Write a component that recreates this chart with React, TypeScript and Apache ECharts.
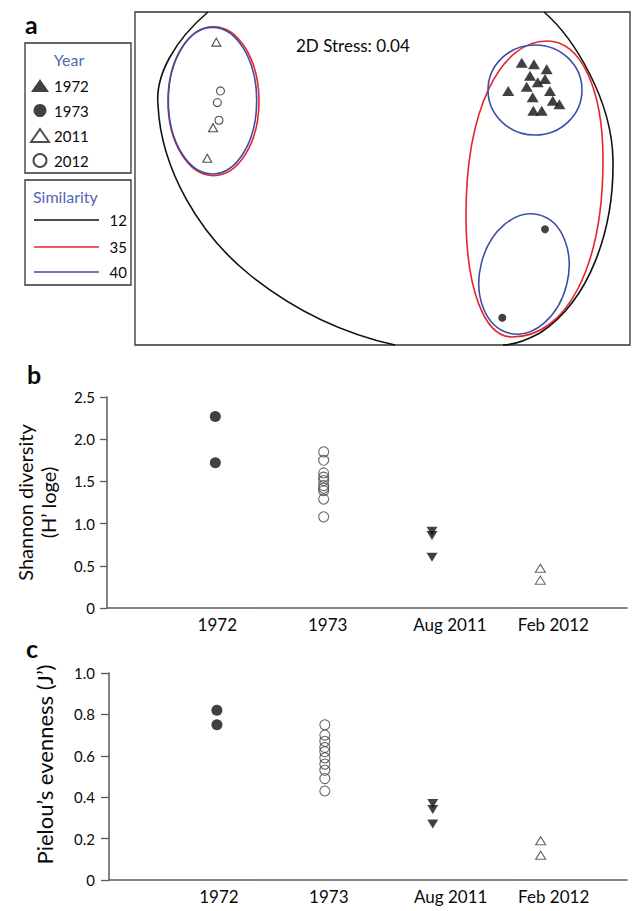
import React, { useEffect, useRef } from "react";
import * as echarts from "echarts";

const FONT = "Lato, 'Open Sans', sans-serif";

// ---- Panel a: 2D ordination (arbitrary units) ----
const mds1972X = [0.844, 0.918, 0.995, 0.894, 0.985, 0.941, 0.874, 0.762, 1.015, 0.91, 1.032, 1.072, 0.914, 0.965];
const mds1972Y = [0.695, 0.686, 0.656, 0.617, 0.598, 0.578, 0.551, 0.526, 0.526, 0.488, 0.467, 0.446, 0.407, 0.407];
const mds1973X = [0.985, 0.726];
const mds1973Y = [-0.305, -0.836];
const mds2011X = [-1.007, -1.027, -1.062];
const mds2011Y = [0.819, 0.305, 0.121];
const mds2012X = [-0.982, -1.001, -0.991];
const mds2012Y = [0.526, 0.456, 0.35];
const yearNames = ["1972", "1973", "2011", "2012"];
const similarityLevels = ["12", "35", "40"];
const stressText = "2D Stress: 0.04";

// ---- Panels b and c ----
const sampleCategories = ["1972", "1973", "Aug 2011", "Feb 2012"];
const shannon1972 = [2.27, 1.72];
const shannon1973 = [1.85, 1.75, 1.6, 1.55, 1.51, 1.45, 1.42, 1.39, 1.29, 1.08];
const shannonAug2011 = [0.91, 0.86, 0.6];
const shannonFeb2012 = [0.47, 0.33];
const pielou1972 = [0.82, 0.75];
const pielou1973 = [0.75, 0.7, 0.67, 0.64, 0.62, 0.59, 0.56, 0.53, 0.49, 0.43];
const pielouAug2011 = [0.37, 0.34, 0.27];
const pielouFeb2012 = [0.19, 0.12];
const shannonTicks = ["0", "0.5", "1.0", "1.5", "2.0", "2.5"];
const pielouTicks = ["0", "0.2", "0.4", "0.6", "0.8", "1.0"];

const zip = (xs: number[], ys: number[]) => xs.map((x, i) => [x, ys[i]]);

const BLACK = "#111";
const RED = "#e6252b";
const BLUE = "#3c4fa5";
const TITLE_BLUE = "#5266b8";
const AXIS = "#5a5a5a";
const TEXT = "#0a0a0a";

function buildOption() {
  const catLabel = (v: number) => {
    const i = Math.round(v);
    if (Math.abs(v - i) > 1e-6 || i < 1 || i > sampleCategories.length) return "";
    return `{c${i}|${sampleCategories[i - 1]}}`;
  };
  const tok = (pad: number) => ({
    fontSize: 17,
    fontFamily: FONT,
    color: TEXT,
    padding: [0, 0, 0, pad],
  });
  const catRich = { c1: tok(4), c2: tok(8), c3: tok(36), c4: tok(26) };

  const catXAxis = (gridIndex: number) => ({
    type: "value",
    gridIndex,
    min: 0,
    max: 4.8,
    interval: 1,
    axisLine: { show: true, onZero: false, lineStyle: { color: AXIS, width: 1.5 } },
    axisTick: { show: false },
    splitLine: { show: false },
    axisLabel: { margin: 8, formatter: catLabel, rich: catRich },
  });

  const openStyle = { color: "rgba(0,0,0,0)", borderColor: "#444", borderWidth: 1.1 };
  const filledStyle = { color: BLACK };

  const catSeries = (
    name: string,
    gi: number,
    cat: number,
    vals: number[],
    symbol: string,
    size: number | number[],
    itemStyle: any,
    rotate = 0
  ) => ({
    type: "scatter",
    name,
    xAxisIndex: gi,
    yAxisIndex: gi,
    symbol,
    symbolSize: size,
    symbolRotate: rotate,
    itemStyle,
    silent: true,
    data: vals.map((v) => [cat, v]),
  });

  const ell = (cx: number, cy: number, rx: number, ry: number, deg: number, stroke: string, z = 1) => ({
    type: "ellipse",
    x: cx,
    y: cy,
    rotation: (-deg * Math.PI) / 180,
    shape: { cx: 0, cy: 0, rx, ry },
    style: { fill: "none", stroke, lineWidth: 1.6 },
    z,
    silent: true,
  });
  const bez = (p: number[], stroke: string) => ({
    type: "bezierCurve",
    shape: { x1: p[0], y1: p[1], cpx1: p[2], cpy1: p[3], cpx2: p[4], cpy2: p[5], x2: p[6], y2: p[7] },
    style: { fill: "none", stroke, lineWidth: 1.6 },
    z: 1,
    silent: true,
  });
  const txt = (x: number, y: number, text: string, size: number, opts: any = {}) => ({
    type: "text",
    x,
    y,
    silent: true,
    z: 5,
    style: {
      text,
      fontSize: size,
      fontFamily: FONT,
      fontWeight: opts.weight || "normal",
      fill: opts.color || TEXT,
      textFill: opts.color || TEXT,
      align: opts.align || "left",
      textAlign: opts.align || "left",
      verticalAlign: "middle",
      textVerticalAlign: "middle",
    },
  });

  const graphic: any[] = [
    txt(25, 24, "a", 25, { weight: "bold" }),
    txt(27, 374, "b", 25, { weight: "bold" }),
    txt(26, 648, "c", 25, { weight: "bold" }),
    txt(296, 45, stressText, 17),
    // legend boxes
    { type: "rect", shape: { x: 25, y: 43, width: 106, height: 130 }, style: { fill: "none", stroke: "#333", lineWidth: 1.3 }, silent: true },
    { type: "rect", shape: { x: 25, y: 180, width: 106, height: 105 }, style: { fill: "none", stroke: "#333", lineWidth: 1.3 }, silent: true },
    txt(69, 59, "Year", 16, { align: "center", color: TITLE_BLUE }),
    txt(33, 196, "Similarity", 16, { color: TITLE_BLUE }),
    { type: "line", shape: { x1: 34, y1: 220, x2: 99, y2: 220 }, style: { stroke: BLACK, lineWidth: 1.5 }, silent: true },
    { type: "line", shape: { x1: 34, y1: 247, x2: 99, y2: 247 }, style: { stroke: RED, lineWidth: 1.5 }, silent: true },
    { type: "line", shape: { x1: 34, y1: 272, x2: 99, y2: 272 }, style: { stroke: BLUE, lineWidth: 1.5 }, silent: true },
    txt(127, 220, similarityLevels[0], 15, { align: "right" }),
    txt(127, 247, similarityLevels[1], 15, { align: "right" }),
    txt(127, 272, similarityLevels[2], 15, { align: "right" }),
    // similarity 12 contour (black), clipped by frame
    bez([208, 12, 175, 40, 155, 75, 158, 105], BLACK),
    bez([158, 105, 161, 170, 200, 235, 250, 275], BLACK),
    bez([250, 275, 300, 315, 350, 335, 395, 345], BLACK),
    bez([544, 12, 574, 38, 612, 100, 613, 160], BLACK),
    bez([613, 160, 614, 230, 590, 300, 540, 333], BLACK),
    bez([540, 333, 525, 341, 512, 345, 503, 345], BLACK),
    // similarity 35 contours (red)
    ell(213.5, 101.2, 45.5, 74.5, 0, RED),
    bez([547, 41, 500, 41, 466, 110, 466, 215], RED),
    bez([466, 215, 466, 288, 484, 337, 512, 337], RED),
    bez([512, 337, 567, 337, 603, 266, 603, 160], RED),
    bez([603, 160, 603, 89, 581, 41, 547, 41], RED),
    // similarity 40 contours (blue)
    ell(212.5, 100.7, 44.2, 73.3, 0, BLUE, 2),
    ell(535, 90, 47, 45, 0, BLUE, 2),
    ell(524, 274, 44, 61, 14, BLUE, 2),
  ];

  return {
    animation: false,
    backgroundColor: "#fff",
    textStyle: { fontFamily: FONT },
    grid: [
      { left: 135, top: 12, width: 495, height: 333, show: true, borderColor: "#333", borderWidth: 1.3, backgroundColor: "transparent" },
      { left: 107, top: 397, width: 520, height: 211 },
      { left: 109, top: 673, width: 518, height: 207 },
    ],
    xAxis: [
      { type: "value", gridIndex: 0, min: -1.5, max: 1.5, show: false },
      catXAxis(1),
      catXAxis(2),
    ],
    yAxis: [
      { type: "value", gridIndex: 0, min: -1, max: 1, show: false },
      {
        type: "value",
        gridIndex: 1,
        min: 0,
        max: 2.5,
        interval: 0.5,
        axisLine: { show: true, lineStyle: { color: AXIS, width: 1.5 } },
        axisTick: { show: true, length: 7, lineStyle: { color: AXIS, width: 1.3 } },
        splitLine: { show: false },
        axisLabel: {
          margin: 12,
          fontSize: 15,
          fontFamily: FONT,
          color: TEXT,
          formatter: (v: number) => shannonTicks[Math.round(v / 0.5)] ?? "",
        },
        name: "Shannon diversity\n(H’ loge)",
        nameLocation: "middle",
        nameRotate: 90,
        nameGap: 47,
        nameTextStyle: { fontSize: 20, lineHeight: 23.5, fontFamily: FONT, color: TEXT },
      },
      {
        type: "value",
        gridIndex: 2,
        min: 0,
        max: 1,
        interval: 0.2,
        axisLine: { show: true, lineStyle: { color: AXIS, width: 1.5 } },
        axisTick: { show: true, length: 8, lineStyle: { color: AXIS, width: 1.3 } },
        splitLine: { show: false },
        axisLabel: {
          margin: 14,
          fontSize: 15,
          fontFamily: FONT,
          color: TEXT,
          formatter: (v: number) => pielouTicks[Math.round(v / 0.2)] ?? "",
        },
        name: "Pielou’s evenness (J’)",
        nameLocation: "middle",
        nameRotate: 90,
        nameGap: 54,
        nameTextStyle: { fontSize: 22, fontFamily: FONT, color: TEXT, padding: [0, 0, 0, 24] },
      },
    ],
    legend: {
      data: yearNames,
      orient: "vertical",
      left: 30,
      top: 78,
      padding: 0,
      itemWidth: 18,
      itemHeight: 13,
      itemGap: 10,
      selectedMode: false,
      textStyle: { fontSize: 15, fontFamily: FONT, color: TEXT },
    },
    graphic,
    series: [
      {
        type: "scatter", name: yearNames[0], xAxisIndex: 0, yAxisIndex: 0, symbol: "triangle", symbolSize: [12, 10],
        itemStyle: { color: BLACK }, silent: true, z: 4, data: zip(mds1972X, mds1972Y),
      },
      {
        type: "scatter", name: yearNames[1], xAxisIndex: 0, yAxisIndex: 0, symbol: "circle", symbolSize: 8,
        itemStyle: { color: BLACK }, silent: true, z: 4, data: zip(mds1973X, mds1973Y),
      },
      {
        type: "scatter", name: yearNames[2], xAxisIndex: 0, yAxisIndex: 0, symbol: "triangle", symbolSize: [9, 8],
        itemStyle: { color: "#fff", borderColor: "#222", borderWidth: 1.1 }, silent: true, z: 4, data: zip(mds2011X, mds2011Y),
      },
      {
        type: "scatter", name: yearNames[3], xAxisIndex: 0, yAxisIndex: 0, symbol: "circle", symbolSize: 8,
        itemStyle: { color: "#fff", borderColor: "#222", borderWidth: 1.1 }, silent: true, z: 4, data: zip(mds2012X, mds2012Y),
      },
      catSeries("H 1972", 1, 1, shannon1972, "circle", 11, filledStyle),
      catSeries("H 1973", 1, 2, shannon1973, "circle", 10, openStyle),
      catSeries("H Aug 2011", 1, 3, shannonAug2011, "triangle", [11, 9], filledStyle, 180),
      catSeries("H Feb 2012", 1, 4, shannonFeb2012, "triangle", [10, 8], openStyle),
      catSeries("J 1972", 2, 1, pielou1972, "circle", 11, filledStyle),
      catSeries("J 1973", 2, 2, pielou1973, "circle", 10, openStyle),
      catSeries("J Aug 2011", 2, 3, pielouAug2011, "triangle", [11, 9], filledStyle, 180),
      catSeries("J Feb 2012", 2, 4, pielouFeb2012, "triangle", [10, 8], openStyle),
    ],
  };
}

export default function App() {
  const ref = useRef<HTMLDivElement>(null);
  useEffect(() => {
    if (!ref.current) return;
    const chart = echarts.init(ref.current, null, { renderer: "svg" });
    chart.setOption(buildOption() as any);
    return () => chart.dispose();
  }, []);
  return (
    <div
      ref={ref}
      style={{ position: "absolute", left: 0, top: 0, width: 635, height: 911, background: "#fff" }}
    />
  );
}
